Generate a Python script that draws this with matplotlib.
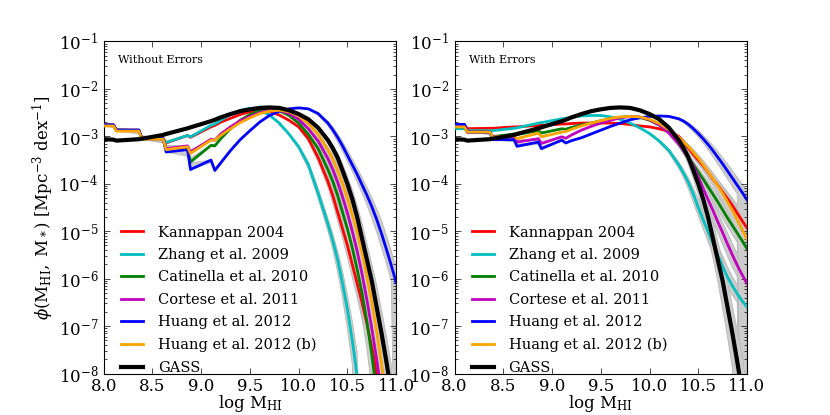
import numpy as np
import matplotlib
matplotlib.use("Agg")
import matplotlib.pyplot as plt

nan = np.nan

# log M_HI grid (extra points near the steps of the binned relations)
log_mhi = [8.00, 8.10, 8.13, 8.36, 8.39, 8.61, 8.64, 8.86, 8.89, 9.10, 9.14,
           9.2, 9.3, 9.4, 9.5, 9.6, 9.7, 9.8, 9.9, 10.0, 10.1, 10.2,
           10.3, 10.35, 10.4, 10.45, 10.5, 10.55, 10.6, 10.65, 10.7, 10.75,
           10.8, 10.85, 10.9, 10.95, 11.0]

labels = ["Kannappan 2004", "Zhang et al. 2009", "Catinella et al. 2010",
          "Cortese et al. 2011", "Huang et al. 2012", "Huang et al. 2012 (b)",
          "GASS"]
colors = ["#ff0000", "#00bfbf", "#008000", "#bf00bf", "#0000ff", "#ffa500", "k"]
panel_titles = ["Without Errors", "With Errors"]

# log phi, same GASS curve on both panels
gass = [-3.06, -3.07, -3.09, -3.06, -3.05, -2.97, -2.95, -2.83, -2.81, -2.68, -2.65,
        -2.60, -2.53, -2.47, -2.43, -2.40, -2.39, -2.40, -2.45, -2.53, -2.64, -2.82,
        -3.08, -3.25, -3.45, -3.72, -4.00, -4.32, -4.70, -5.15, -5.60, -6.05,
        -6.60, -7.15, -7.75, -8.40, nan]

# ---- without errors ----
kann_noerr = [-2.76, -2.76, -2.87, -2.87, -3.05, -3.05, -3.14, -2.98, -3.02, -2.80, -2.77,
              -2.70, -2.62, -2.54, -2.48, -2.45, -2.47, -2.55, -2.66, -2.80, -3.05, -3.45,
              -3.95, -4.25, -4.60, -4.95, -5.30, -5.70, -6.10, -6.50, -6.95, -7.45,
              -8.00, -8.60, nan, nan, nan]
zhang_noerr = [-2.76, -2.76, -2.87, -2.87, -3.05, -3.05, -3.13, -2.98, -3.01, -2.77, -2.74,
               -2.66, -2.54, -2.45, -2.41, -2.44, -2.55, -2.72, -2.95, -3.22, -3.60, -4.20,
               -4.85, -5.20, -5.60, -6.10, -6.65, -7.30, -8.05, nan, nan, nan,
               nan, nan, nan, nan, nan]
cat_noerr = [-2.76, -2.76, -2.87, -2.87, -3.05, -3.05, -3.26, -3.28, -3.54, -3.19, -3.20,
             -3.05, -2.84, -2.66, -2.54, -2.46, -2.43, -2.46, -2.56, -2.72, -2.96, -3.26,
             -3.70, -3.95, -4.25, -4.60, -4.95, -5.35, -5.80, -6.30, -6.90, -7.60,
             -8.40, nan, nan, nan, nan]
cort_noerr = [-2.76, -2.76, -2.87, -2.87, -3.05, -3.05, -3.26, -3.20, -3.33, -3.06, -3.08,
              -2.95, -2.80, -2.67, -2.58, -2.50, -2.45, -2.45, -2.52, -2.64, -2.84, -3.10,
              -3.47, -3.70, -3.97, -4.28, -4.62, -5.00, -5.42, -5.90, -6.45, -7.05,
              -7.70, -8.40, nan, nan, nan]
huang_noerr = [-2.76, -2.76, -2.87, -2.87, -3.05, -3.05, -3.33, -3.28, -3.70, -3.50, -3.72,
               -3.56, -3.30, -3.07, -2.88, -2.70, -2.56, -2.47, -2.42, -2.40, -2.42, -2.52,
               -2.72, -2.86, -3.02, -3.20, -3.40, -3.60, -3.80, -4.02, -4.24, -4.48,
               -4.75, -5.05, -5.38, -5.72, -6.08]
huangb_noerr = [-2.78, -2.78, -2.89, -2.89, -3.06, -3.06, -3.28, -3.22, -3.36, -3.08, -3.08,
                -2.98, -2.84, -2.71, -2.61, -2.52, -2.47, -2.45, -2.48, -2.57, -2.73, -2.96,
                -3.28, -3.48, -3.72, -4.00, -4.30, -4.65, -5.02, -5.45, -5.95, -6.50,
                -7.10, -7.80, -8.60, nan, nan]
# half width of the grey scatter, in dex of M_HI
band_noerr = [0.01, 0.01, 0.01, 0.01, 0.01, 0.01, 0.01, 0.01, 0.01, 0.01, 0.01,
              0.01, 0.01, 0.01, 0.01, 0.01, 0.01, 0.01, 0.01, 0.012, 0.015, 0.018,
              0.02, 0.022, 0.025, 0.027, 0.03, 0.032, 0.035, 0.037, 0.04, 0.042,
              0.045, 0.045, 0.045, 0.045, 0.045]

# ---- with errors ----
kann_err = [-2.75, -2.75, -2.84, -2.83, -2.83, -2.80, -2.80, -2.77, -2.77, -2.74, -2.74,
            -2.73, -2.72, -2.72, -2.72, -2.72, -2.73, -2.75, -2.78, -2.80, -2.84, -2.90,
            -3.00, -3.12, -3.25, -3.38, -3.50, -3.62, -3.75, -3.90, -4.03, -4.17,
            -4.31, -4.46, -4.62, -4.78, -4.93]
zhang_err = [-2.84, -2.84, -2.88, -2.88, -2.88, -2.83, -2.82, -2.72, -2.71, -2.63, -2.62,
             -2.60, -2.57, -2.56, -2.56, -2.59, -2.64, -2.72, -2.82, -2.94, -3.10, -3.30,
             -3.60, -3.78, -3.98, -4.22, -4.50, -4.76, -5.00, -5.25, -5.50, -5.75,
             -5.97, -6.15, -6.32, -6.47, -6.60]
cat_err = [-2.80, -2.80, -2.91, -2.91, -3.01, -2.95, -2.96, -2.88, -2.93, -2.84, -2.85,
           -2.81, -2.76, -2.72, -2.67, -2.63, -2.60, -2.58, -2.60, -2.66, -2.76, -2.90,
           -3.15, -3.30, -3.45, -3.60, -3.75, -3.90, -4.06, -4.22, -4.38, -4.55,
           -4.72, -4.88, -5.04, -5.20, -5.37]
cort_err = [-2.75, -2.75, -2.91, -2.91, -3.01, -3.01, -3.12, -3.05, -3.15, -3.01, -3.04,
            -2.97, -2.87, -2.79, -2.72, -2.66, -2.61, -2.58, -2.59, -2.65, -2.76, -2.93,
            -3.16, -3.30, -3.46, -3.63, -3.85, -4.10, -4.33, -4.56, -4.80, -5.03,
            -5.27, -5.50, -5.72, -5.92, -6.10]
huang_err = [-2.75, -2.75, -2.91, -2.91, -3.07, -3.07, -3.21, -3.12, -3.26, -3.08, -3.14,
             -3.09, -3.03, -2.95, -2.87, -2.79, -2.72, -2.65, -2.61, -2.58, -2.57, -2.58,
             -2.63, -2.68, -2.75, -2.84, -2.94, -3.05, -3.17, -3.30, -3.44, -3.58,
             -3.73, -3.88, -4.03, -4.18, -4.34]
huangb_err = [-2.80, -2.80, -2.91, -2.91, -3.02, -2.98, -3.05, -2.93, -3.01, -2.91, -2.90,
              -2.85, -2.78, -2.72, -2.67, -2.62, -2.59, -2.58, -2.59, -2.64, -2.73, -2.86,
              -3.02, -3.12, -3.22, -3.34, -3.46, -3.60, -3.74, -3.89, -4.04, -4.20,
              -4.38, -4.56, -4.76, -4.96, -5.17]
band_err = [0.01, 0.01, 0.01, 0.01, 0.01, 0.01, 0.01, 0.01, 0.01, 0.01, 0.01,
            0.01, 0.01, 0.01, 0.01, 0.01, 0.01, 0.01, 0.01, 0.012, 0.015, 0.018,
            0.02, 0.023, 0.026, 0.03, 0.033, 0.036, 0.04, 0.043, 0.046, 0.05,
            0.053, 0.056, 0.06, 0.06, 0.06]

plt.rcParams.update({
    "font.family": "serif",
    "font.serif": ["DejaVu Serif"],
    "mathtext.fontset": "dejavuserif",
    "font.size": 12,
    "xtick.direction": "in",
    "ytick.direction": "in",
    "xtick.top": True,
    "ytick.right": True,
    "xtick.major.size": 4,
    "ytick.major.size": 4,
    "xtick.minor.size": 2,
    "ytick.minor.size": 2,
    "xtick.major.width": 0.5,
    "ytick.major.width": 0.5,
    "ytick.minor.width": 0.5,
    "xtick.major.pad": 3,
    "ytick.major.pad": 4,
})

fig, axes = plt.subplots(1, 2, figsize=(8.3, 4.15), dpi=100)
fig.subplots_adjust(left=0.125, right=0.9, bottom=0.1, top=0.9, wspace=0.2)

panels = [
    ([kann_noerr, zhang_noerr, cat_noerr, cort_noerr, huang_noerr, huangb_noerr, gass], band_noerr),
    ([kann_err, zhang_err, cat_err, cort_err, huang_err, huangb_err, gass], band_err),
]

x = np.array(log_mhi)
for ax, (curves, band), title in zip(axes, panels, panel_titles):
    dx = np.array(band)
    # grey scatter: the curve moved left/right by the mass uncertainty
    for y in curves:
        y = np.array(y)
        ok = np.isfinite(y)
        right = np.interp(x, (x + dx)[ok], y[ok], left=nan, right=-12)
        left = np.interp(x, (x - dx)[ok], y[ok], left=nan, right=-12)
        hi = np.fmax(np.fmax(right, left), np.where(ok, y, -12))
        lo = np.fmin(np.fmin(right, left), np.where(ok, y, -12))
        ax.fill_between(x, 10 ** lo, 10 ** hi, facecolor="0.8",
                        edgecolor="0.72", linewidth=0.6, zorder=1)
    for y, c, lab in zip(curves, colors, labels):
        lw = 3 if c == "k" else 2
        ax.plot(x, 10 ** np.array(y), color=c, lw=lw, label=lab, zorder=3)

    ax.set_yscale("log")
    ax.set_xlim(8.0, 11.0)
    ax.set_ylim(1e-8, 1e-1)
    ax.set_xticks(np.arange(8.0, 11.01, 0.5))
    ax.set_xlabel(r"log M$_\mathrm{HI}$", labelpad=-1)
    ax.text(0.05, 0.944, title, transform=ax.transAxes, fontsize=8, va="center")
    ax.legend(loc="lower left", bbox_to_anchor=(0.03, -0.03), frameon=False,
              fontsize=10.5, handlelength=1.5, handletextpad=1.0,
              labelspacing=0.58, borderaxespad=0.2)

axes[0].set_ylabel(r"$\phi(\mathrm{M_{HI}},\ \mathrm{M_*})\ [\mathrm{Mpc^{-3}\ dex^{-1}}]$",
                   labelpad=2)

fig.savefig("out.png", dpi=100)
